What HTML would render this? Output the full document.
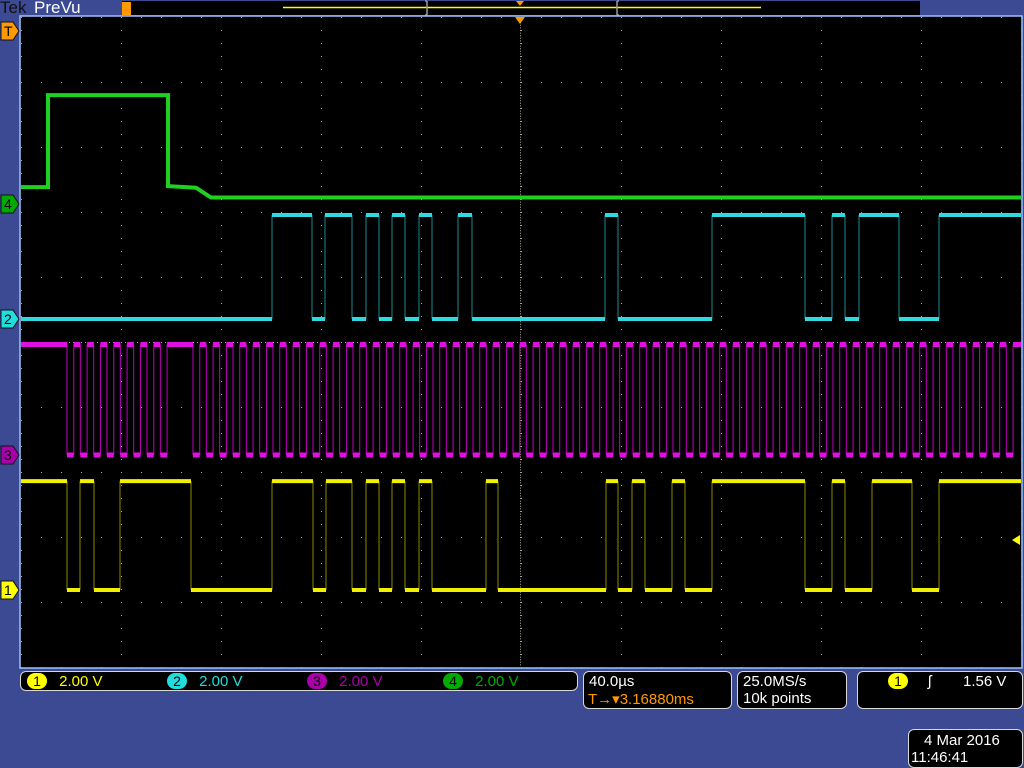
<!DOCTYPE html>
<html><head><meta charset="utf-8"><style>
html,body{margin:0;padding:0;background:#3c4993;width:1024px;height:768px;overflow:hidden;font-family:"Liberation Sans",sans-serif}
#root{position:relative;width:1024px;height:768px}
.box{position:absolute;background:#000;border:1px solid #d8d8d8;border-radius:6px;color:#fff;font-size:15px}
.t{position:absolute;white-space:nowrap}
.badge{display:inline-block;width:20px;height:16px;border-radius:8px;text-align:center;font-size:14px;line-height:16px;color:#000}
</style></head><body><div id="root">
<div class="t" style="left:0;top:-2px;font-size:17px;color:#111">Tek</div>
<div class="t" style="left:34px;top:-2px;font-size:17px;color:#fff">PreVu</div>
<svg id="plot" width="1024" height="768" style="position:absolute;left:0;top:0"></svg>
<div class="box" style="left:20px;top:671px;width:556px;height:18px">
 <span class="t" style="left:6px;top:1px"><span class="badge" style="background:#ff0">1</span> <span style="color:#ff0;margin-left:8px">2.00 V</span></span>
 <span class="t" style="left:146px;top:1px"><span class="badge" style="background:#2dd">2</span> <span style="color:#2dd;margin-left:8px">2.00 V</span></span>
 <span class="t" style="left:286px;top:1px"><span class="badge" style="background:#a0a">3</span> <span style="color:#a0a;margin-left:8px">2.00 V</span></span>
 <span class="t" style="left:422px;top:1px"><span class="badge" style="background:#0a0">4</span> <span style="color:#0a0;margin-left:8px">2.00 V</span></span>
</div>
<div class="box" style="left:583px;top:671px;width:147px;height:36px">
 <span class="t" style="left:5px;top:1px">40.0µs</span>
 <span class="t" style="left:4px;top:18px;color:#f90">T→▾3.16880ms</span>
</div>
<div class="box" style="left:737px;top:671px;width:108px;height:36px">
 <span class="t" style="left:5px;top:1px">25.0MS/s</span>
 <span class="t" style="left:5px;top:18px">10k points</span>
</div>
<div class="box" style="left:857px;top:671px;width:164px;height:36px">
 <span class="t" style="left:30px;top:1px"><span class="badge" style="background:#ff0">1</span></span>
 <span class="t" style="left:70px;top:1px">ʃ</span>
 <span class="t" style="left:105px;top:1px">1.56 V</span>
</div>
<div class="box" style="left:908px;top:729px;width:113px;height:37px">
 <span class="t" style="left:15px;top:2px">4 Mar 2016</span>
 <span class="t" style="left:2px;top:19px">11:46:41</span>
</div>
</div>
<script>
// time axis: 0..400 µs over 10 divisions (40 µs/div)
const yellowEdges=[18.4,23.6,29.2,39.6,68,100.4,116.8,122,132.4,138,143.2,148.4,153.6,159.2,164.4,186,190.8,234,238.8,244.4,249.6,260.4,265.6,276.4,313.6,324.4,329.6,340.4,356.4,367.2];
const yellowStart=1; // 1=high
const cyanEdges=[100.4,116.4,121.6,132.4,138,143.2,148.4,153.6,159.2,164.4,174.8,180.4,233.6,238.8,276.4,313.6,324.4,329.6,335.2,351.2,367.2];
const cyanStart=0;
const clockGroup1Start=18.4, clockGroup1Count=8;
const clockGroup2Start=68.8, clockGroup2Count=62;
const clockPeriod=5.333, clockLow=2.7;
const greenTimes=[0,10.8,10.8,58.8,58.8,70,76,400];
const greenVolts=[0.52,0.52,3.35,3.35,0.55,0.5,0.2,0.2];
const yellowLevels=[0,3.35], cyanLevels=[0,3.2], magLevels=[0,3.4];
const X=t=>21+t*2.5;
const DIV=65;
const Y=(gnd,v)=>gnd-v*DIV/2;
const gnd={y:590,c:319,m:455,g:204};
const svg=document.getElementById('plot');
const NS='http://www.w3.org/2000/svg';
function mk(tag,attrs,name,inter){const e=document.createElementNS(NS,tag);for(const k in attrs)e.setAttribute(k,attrs[k]);


svg.appendChild(e);return e;}
mk('rect',{x:122,y:1,width:798,height:14,fill:'#000'},'record-view-bar','false');
mk('line',{x1:283,y1:7.5,x2:761,y2:7.5,stroke:'#ff0','stroke-width':1.5},'record-view-waveform','false');
mk('path',{d:'M427 1v14M425 1h2M425 15h2M617 1v14M619 1h-2M619 15h-2',stroke:'#999',fill:'none','stroke-width':1.5},'record-view-brackets','true');
mk('polygon',{points:'516,1 524,1 520,6',fill:'#f90'},'record-trigger-marker','false');
mk('rect',{x:122,y:2,width:9,height:13,fill:'#f90'},'record-t-marker','false');
mk('rect',{x:20,y:16,width:1002,height:652,fill:'#000',stroke:'#9cc4ff','stroke-width':1.5},'graticule-area','false');
let gp='';
for(let i=0;i<=10;i++){const x=21+i*100;for(let y=17;y<=667;y+=13)gp+=`M${x} ${y}h1v1h-1z`;}
for(let j=0;j<=10;j++){const y=17+j*65;for(let x=21;x<=1021;x+=20)gp+=`M${x} ${y}h1v1h-1z`;}
for(let y=17;y<=667;y+=2.6)gp+=`M520 ${y.toFixed(1)}h1v1h-1z`;
for(let x=21;x<=1021;x+=4)gp+=`M${x} 342h1v1h-1z`;
mk('path',{d:gp,fill:'#b0a890'},'graticule-grid','false');
mk('polygon',{points:'515,17 525,17 520,24',fill:'#f90'},'trigger-position-marker','true');
function wave(edges,start,lv,g,hi,dark,name,w){
 let s=start,x0=X(0),d='',v='';
 const pts=[...edges,400];
 for(const e of pts){const x1=X(e);const y=Y(g,lv[s]);d+=`M${x0} ${y}H${x1}`;
  if(e<400){const y2=Y(g,lv[1-s]);v+=`M${x1} ${y}V${y2}`;s=1-s;}x0=x1;}
 mk('path',{d:v,stroke:dark,'stroke-width':1,fill:'none'},name+'-edges','false');
 mk('path',{d:d,stroke:hi,'stroke-width':w,fill:'none'},name+'-levels','false');
}
const clk=[];
for(let k=0;k<clockGroup1Count;k++){const t=clockGroup1Start+k*clockPeriod;clk.push(t,t+clockLow);}
for(let k=0;k<clockGroup2Count;k++){const t=clockGroup2Start+k*clockPeriod;if(t+clockLow<400)clk.push(t,t+clockLow);}
wave(clk,1,magLevels,gnd.m,'#e010e0','#c000c0','ch3-trace',5);
wave(cyanEdges,cyanStart,cyanLevels,gnd.c,'#30d8e0','#1a8a90','ch2-trace',4);
wave(yellowEdges,yellowStart,yellowLevels,gnd.y,'#f0f000','#8a8a00','ch1-trace',4);
let gd='';for(let i=0;i<greenTimes.length;i++){gd+=(i?'L':'M')+X(greenTimes[i])+' '+Y(gnd.g,greenVolts[i]);}
mk('path',{d:gd,stroke:'#20d020','stroke-width':4,fill:'none'},'ch4-trace','false');
function marker(y,col,txt,name,tc){mk('polygon',{points:`1,${y-9} 13,${y-9} 19,${y} 13,${y+9} 1,${y+9}`,fill:col,stroke:'#111'},name,'true');
 const t=mk('text',{x:4,y:y+5,fill:tc,'font-size':14,'font-family':'Liberation Sans, sans-serif'},name+'-label','false');t.textContent=txt;}
marker(31,'#f90','T','trigger-marker','#000');
marker(gnd.g,'#0a0','4','ch4-marker','#000');
marker(gnd.c,'#2dd','2','ch2-marker','#000');
marker(gnd.m,'#a0a','3','ch3-marker','#000');
marker(gnd.y,'#ff0','1','ch1-marker','#000');
mk('polygon',{points:'1012,540 1020,535 1020,545',fill:'#ff0'},'trigger-level-marker','true');
</script></body></html>
